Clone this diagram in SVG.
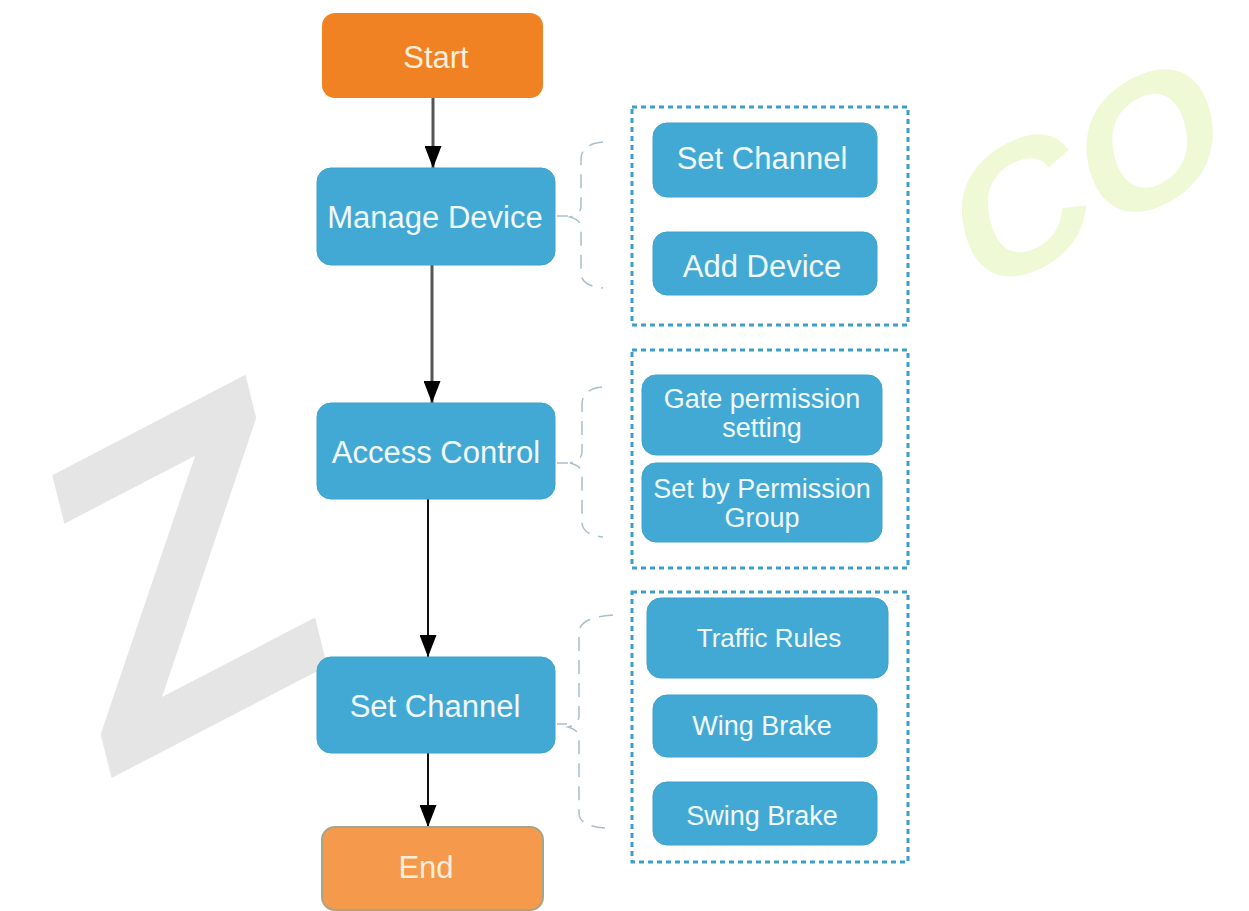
<svg xmlns="http://www.w3.org/2000/svg" width="1249" height="911" viewBox="0 0 1249 911">
<defs>
<style>
.wm-g{fill:#e5e5e5;font-family:"Liberation Sans",Arial,sans-serif;font-weight:bold;font-size:440px}
.wm-y{fill:#f0f9d6;font-family:"Liberation Sans",Arial,sans-serif;font-weight:bold;font-size:185px}
.main{fill:#42a9d4;stroke:#3da2cc;stroke-width:1}
.sub{fill:#42a9d4;stroke:#3da2cc;stroke-width:1}
.term{fill:#f08223}
.term2{fill:#f59a4c;stroke:#a8a488;stroke-width:2}
.t{font-family:"Liberation Sans",Arial,sans-serif;fill:#f2f9fd;text-anchor:middle}
.t31{font-size:31px}
.t27{font-size:27px}
.t26{font-size:26px}
.tt{fill:#fdeedc}
.dot{fill:none;stroke:#3d9fc9;stroke-width:3;stroke-dasharray:5 4}
.brace{fill:none;stroke:#a9bfca;stroke-width:1.5;stroke-dasharray:14 9}
.edge{fill:none;stroke:#111;stroke-width:2}
.edge1{fill:none;stroke:#555;stroke-width:3}
</style>
<marker id="ah" markerUnits="userSpaceOnUse" markerWidth="22" markerHeight="17" viewBox="0 0 22 17" refX="22" refY="8.5" orient="auto">
<path d="M0,0 L22,8.5 L0,17 z" fill="#000"/>
</marker>
</defs>
<rect width="1249" height="911" fill="#fff"/>
<g id="watermark">
<text class="wm-g" transform="matrix(0.887,-0.461,0.244,0.975,100,784)">Z</text>
<text class="wm-y" transform="matrix(0.93,-0.48,0.27,0.95,976,300)">CO</text>
</g>
<g id="connectors">
<line class="edge1" x1="433" y1="98" x2="433" y2="168" marker-end="url(#ah)"/>
<line class="edge1" x1="432" y1="265" x2="432" y2="403" marker-end="url(#ah)"/>
<line class="edge" x1="428" y1="498" x2="428" y2="657" marker-end="url(#ah)"/>
<line class="edge" x1="428" y1="753" x2="428" y2="827" marker-end="url(#ah)"/>
<path class="brace" d="M603,142 Q582,144 581,158 L581,206 Q581,214 570,217 Q581,220 581,228 L581,274 Q582,286 603,288"/>
<path class="brace" d="M602,387 Q583,389 582,403 L582,452 Q582,460 570,463 Q582,466 582,474 L582,523 Q583,535 603,537"/>
<path class="brace" d="M613,615 Q580,617 579,632 L579,716 Q579,724 568,727 Q579,730 579,738 L579,814 Q580,826 605,828"/>
<line class="brace" x1="557" y1="216" x2="568" y2="216"/>
<line class="brace" x1="557" y1="463" x2="568" y2="463"/>
<line class="brace" x1="557" y1="724" x2="567" y2="724"/>
</g>
<g id="start">
<rect class="term" x="322" y="13" width="221" height="85" rx="13"/>
<text class="t t31 tt" x="436" y="68">Start</text>
</g>
<g id="manage-device">
<rect class="main" x="317" y="168" width="238" height="97" rx="14"/>
<text class="t t31" x="435" y="228">Manage Device</text>
</g>
<g id="access-control">
<rect class="main" x="317" y="403" width="238" height="96" rx="14"/>
<text class="t t31" x="436" y="463">Access Control</text>
</g>
<g id="set-channel">
<rect class="main" x="317" y="657" width="238" height="96" rx="14"/>
<text class="t t31" x="435" y="717">Set Channel</text>
</g>
<g id="end">
<rect class="term2" x="322" y="827" width="221" height="83" rx="13"/>
<text class="t t31 tt" x="426" y="878">End</text>
</g>
<g id="group-device">
<rect class="dot" x="632" y="107" width="276" height="218"/>
</g>
<g id="sub-set-channel">
<rect class="sub" x="653" y="123" width="224" height="74" rx="14"/>
<text class="t t31" x="762" y="169">Set Channel</text>
</g>
<g id="sub-add-device">
<rect class="sub" x="653" y="232" width="224" height="63" rx="14"/>
<text class="t t31" x="762" y="277">Add Device</text>
</g>
<g id="group-access">
<rect class="dot" x="632" y="350" width="276" height="218"/>
</g>
<g id="sub-gate-permission">
<rect class="sub" x="642" y="375" width="240" height="80" rx="14"/>
<text class="t t27" x="762" y="408">Gate permission</text>
<text class="t t27" x="762" y="437">setting</text>
</g>
<g id="sub-permission-group">
<rect class="sub" x="642" y="463" width="240" height="79" rx="14"/>
<text class="t t27" x="762" y="498">Set by Permission</text>
<text class="t t27" x="762" y="527">Group</text>
</g>
<g id="group-channel">
<rect class="dot" x="632" y="592" width="276" height="270"/>
</g>
<g id="sub-traffic-rules">
<rect class="sub" x="647" y="598" width="241" height="80" rx="14"/>
<text class="t t26" x="769" y="647">Traffic Rules</text>
</g>
<g id="sub-wing-brake">
<rect class="sub" x="653" y="695" width="224" height="62" rx="14"/>
<text class="t t27" x="762" y="735">Wing Brake</text>
</g>
<g id="sub-swing-brake">
<rect class="sub" x="653" y="782" width="224" height="63" rx="14"/>
<text class="t t27" x="762" y="825">Swing Brake</text>
</g>
</svg>
